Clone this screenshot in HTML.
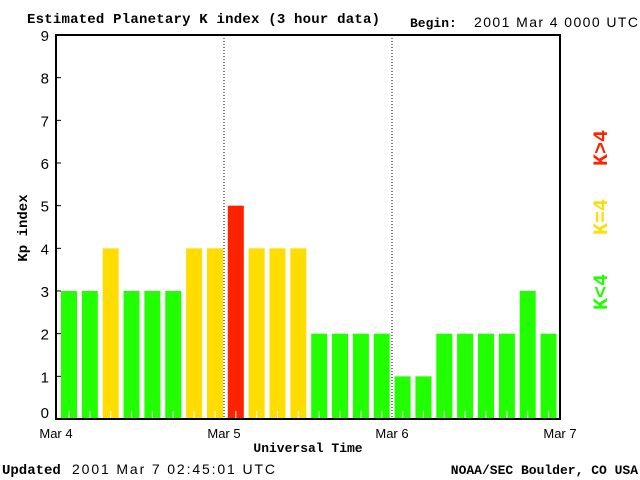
<!DOCTYPE html>
<html><head><meta charset="utf-8"><style>
body{margin:0;background:#fff}
svg{display:block}
.mono{font-family:"Liberation Mono",monospace;font-weight:bold}
.sans{font-family:"Liberation Sans",sans-serif}
</style></head><body>
<svg id="c" width="640" height="480" xmlns="http://www.w3.org/2000/svg">
<text class="mono" x="27" y="23" font-size="14" textLength="353">Estimated Planetary K index (3 hour data)</text>
<text class="mono" x="410" y="27" font-size="13">Begin:</text>
<text class="sans" x="474" y="27" font-size="14" textLength="164">2001 Mar 4 0000 UTC</text>
<g id="bars"></g>
<g id="axes"></g>
<rect x="56" y="35" width="504" height="384" fill="none" stroke="#000" stroke-width="2"/>
<text class="mono" transform="translate(27,228) rotate(-90)" text-anchor="middle" font-size="14">Kp index</text>
<text class="mono" x="308" y="452" text-anchor="middle" font-size="13">Universal Time</text>
<text class="mono" transform="translate(607,148) rotate(-90)" text-anchor="middle" font-size="20" font-weight="normal" fill="#ff2200">K&gt;4</text>
<text class="mono" transform="translate(607,217) rotate(-90)" text-anchor="middle" font-size="20" font-weight="normal" fill="#ffdd00">K=4</text>
<text class="mono" transform="translate(607,292) rotate(-90)" text-anchor="middle" font-size="20" font-weight="normal" fill="#22ff00">K&lt;4</text>
<text class="mono" x="2" y="474" font-size="14">Updated</text>
<text class="sans" x="72" y="474" font-size="14" textLength="203">2001 Mar  7 02:45:01 UTC</text>
<text class="mono" x="638" y="474" text-anchor="end" font-size="13">NOAA/SEC Boulder, CO USA</text>
</svg>
<script>
const kpValues=[3,3,4,3,3,3,4,4,5,4,4,4,2,2,2,2,1,1,2,2,2,2,3,2];
const dayLabels=["Mar 4","Mar 5","Mar 6","Mar 7"];
const yTicks=[0,1,2,3,4,5,6,7,8,9];
const NS="http://www.w3.org/2000/svg";
const x0=56,x1=560,yb=419,yt=35;
const xs=i=>x0+(x1-x0)*i/kpValues.length;
const ys=v=>yb-(yb-yt)*v/9;
const color=v=>v>4?"#ff2200":(v==4?"#ffdd00":"#22ff00");
function mk(t,a,p){const e=document.createElementNS(NS,t);for(const k in a)e.setAttribute(k,a[k]);p.appendChild(e);return e;}
const bars=document.getElementById('bars'),axes=document.getElementById('axes');
kpValues.forEach((v,i)=>{
  const bx=xs(i)+5-i*0.15;
  const r=mk('rect',{x:bx,y:ys(v),width:16,height:yb-ys(v),fill:color(v)},bars);
  
  
  const t=mk('line',{x1:bx+8,x2:bx+8,y1:yb-8,y2:yb,stroke:'#fff','stroke-width':1},bars);
  
  
});
yTicks.forEach(v=>{
  const l=mk('line',{x1:x0,x2:x0+5,y1:ys(v),y2:ys(v),stroke:'#000'},axes);
  
  
  const tx=mk('text',{x:49,y:Math.min(Math.max(ys(v)+6,41),418),'text-anchor':'end','font-size':15,'font-family':'Liberation Sans, sans-serif'},axes);
  tx.textContent=v;
  
  
});
dayLabels.forEach((d,i)=>{
  const x=x0+(x1-x0)*i/(dayLabels.length-1);
  if(i>0&&i<dayLabels.length-1){
    const l=mk('line',{x1:x,x2:x,y1:yt,y2:yb,stroke:'#000','stroke-dasharray':'1,2'},axes);
    
    
  }
  const tx=mk('text',{x:x,y:438,'text-anchor':'middle','font-size':13,'font-family':'Liberation Sans, sans-serif'},axes);
  tx.textContent=d;
  
  
});
</script>
</body></html>
